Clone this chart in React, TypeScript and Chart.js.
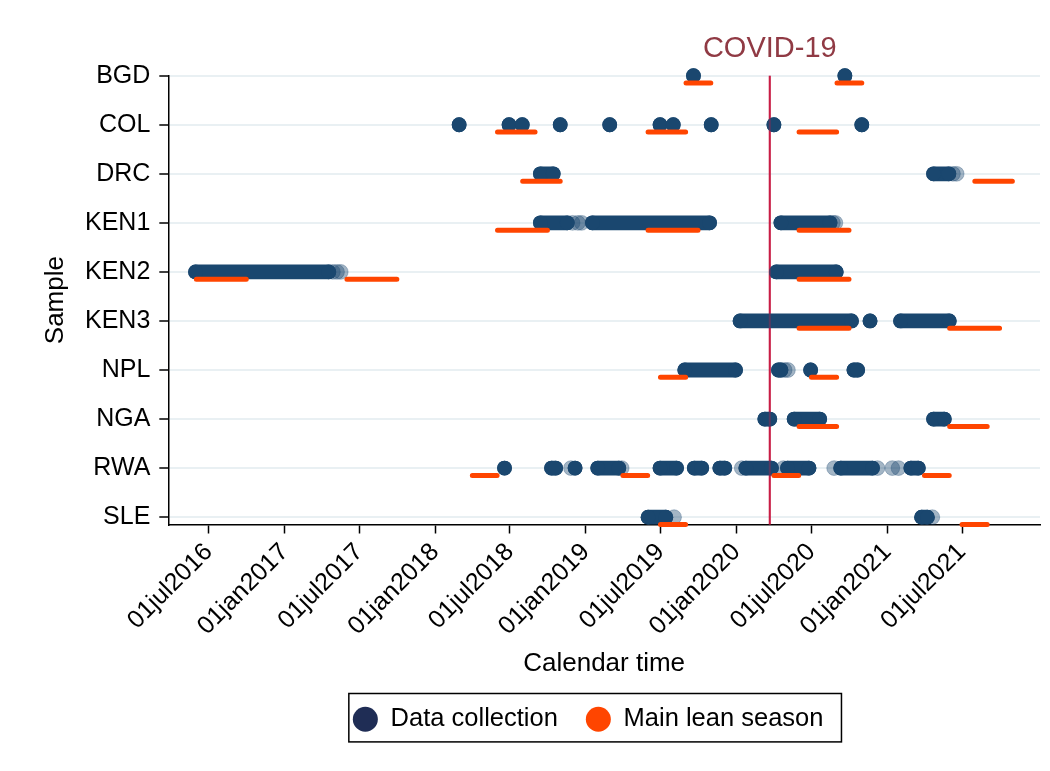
import React, { useEffect, useRef } from 'react';
import { Chart, registerables } from 'chart.js';

Chart.register(...registerables);

// ---------- categories & axis ----------
const samples = ['BGD', 'COL', 'DRC', 'KEN1', 'KEN2', 'KEN3', 'NPL', 'NGA', 'RWA', 'SLE'];

const xTickDates = [
  '2016-07-01', '2017-01-01', '2017-07-01', '2018-01-01', '2018-07-01', '2019-01-01',
  '2019-07-01', '2020-01-01', '2020-07-01', '2021-01-01', '2021-07-01',
];
const xTickLabels = [
  '01jul2016', '01jan2017', '01jul2017', '01jan2018', '01jul2018', '01jan2019',
  '01jul2019', '01jan2020', '01jul2020', '01jan2021', '01jul2021',
];
const xMinDate = '2016-03-25';
const xMaxDate = '2022-01-06';
const covidDate = '2020-03-22';
const covidLabel = 'COVID-19';

// ---------- data collection periods [start, end] ----------
const collectBGD = [['2019-09-19', '2019-09-19'], ['2020-09-20', '2020-09-20']];
const collectCOL = [
  ['2018-02-28', '2018-02-28'], ['2018-06-29', '2018-06-29'], ['2018-07-31', '2018-07-31'],
  ['2018-10-31', '2018-10-31'], ['2019-02-28', '2019-02-28'], ['2019-06-30', '2019-06-30'],
  ['2019-08-01', '2019-08-01'], ['2019-11-01', '2019-11-01'], ['2020-04-01', '2020-04-01'],
  ['2020-10-31', '2020-10-31'],
];
const collectDRC = [['2018-09-13', '2018-10-14'], ['2021-04-23', '2021-05-30']];
const collectKEN1 = [['2018-09-13', '2018-11-17'], ['2019-01-17', '2019-10-28'], ['2020-04-18', '2020-08-15']];
const collectKEN2 = [['2016-05-30', '2017-04-18'], ['2020-04-07', '2020-08-30']];
const collectKEN3 = [['2020-01-10', '2020-10-06'], ['2020-11-20', '2020-11-20'], ['2021-02-02', '2021-05-31']];
const collectNPL = [
  ['2019-08-29', '2019-12-30'], ['2020-04-12', '2020-04-18'], ['2020-06-29', '2020-06-29'],
  ['2020-10-12', '2020-10-21'],
];
const collectNGA = [['2020-03-10', '2020-03-22'], ['2020-05-20', '2020-07-21'], ['2021-04-23', '2021-05-19']];
const collectRWA = [
  ['2018-06-18', '2018-06-18'], ['2018-10-10', '2018-10-20'], ['2018-12-06', '2018-12-06'],
  ['2019-01-30', '2019-03-22'], ['2019-06-30', '2019-08-09'], ['2019-09-21', '2019-10-09'],
  ['2019-11-22', '2019-12-04'], ['2020-01-24', '2020-03-26'], ['2020-05-04', '2020-06-25'],
  ['2020-09-10', '2020-11-26'], ['2021-02-27', '2021-03-17'],
];
const collectSLE = [['2019-06-01', '2019-07-14'], ['2021-03-25', '2021-04-08']];

// sparse (few observations) collection days, drawn faded
const sparseBGD: string[] = [];
const sparseCOL: string[] = [];
const sparseDRC = ['2021-06-09', '2021-06-18'];
const sparseKEN1 = ['2018-11-30', '2018-12-13', '2018-12-22', '2020-08-22', '2020-08-28'];
const sparseKEN2 = ['2017-04-28', '2017-05-08', '2017-05-17'];
const sparseKEN3: string[] = [];
const sparseNPL = ['2020-04-27', '2020-05-05'];
const sparseNGA: string[] = [];
const sparseRWA = [
  '2018-11-26', '2019-03-29', '2020-01-14', '2020-04-24', '2020-08-25', '2020-12-08',
  '2021-01-13', '2021-01-28',
];
const sparseSLE = ['2019-08-03', '2021-04-20'];

// ---------- main lean season periods [start, end] ----------
const leanBGD = [['2019-09-01', '2019-10-31'], ['2020-09-01', '2020-10-31']];
const leanCOL = [['2018-06-01', '2018-08-31'], ['2019-06-01', '2019-08-31'], ['2020-06-01', '2020-08-31']];
const leanDRC = [['2018-08-01', '2018-10-31'], ['2021-08-01', '2021-10-31']];
const leanKEN1 = [['2018-06-01', '2018-09-30'], ['2019-06-01', '2019-09-30'], ['2020-06-01', '2020-09-30']];
const leanKEN2 = [['2016-06-01', '2016-09-30'], ['2017-06-01', '2017-09-30'], ['2020-06-01', '2020-09-30']];
const leanKEN3 = [['2020-06-01', '2020-09-30'], ['2021-06-01', '2021-09-30']];
const leanNPL = [['2019-07-01', '2019-08-31'], ['2020-07-01', '2020-08-31']];
const leanNGA = [['2020-06-01', '2020-08-31'], ['2021-06-01', '2021-08-31']];
const leanRWA = [
  ['2018-04-01', '2018-05-31'], ['2019-04-01', '2019-05-31'], ['2020-04-01', '2020-05-31'],
  ['2021-04-01', '2021-05-31'],
];
const leanSLE = [['2019-07-01', '2019-08-31'], ['2021-07-01', '2021-08-31']];

const collectionBySample = [
  collectBGD, collectCOL, collectDRC, collectKEN1, collectKEN2,
  collectKEN3, collectNPL, collectNGA, collectRWA, collectSLE,
];
const sparseBySample = [
  sparseBGD, sparseCOL, sparseDRC, sparseKEN1, sparseKEN2,
  sparseKEN3, sparseNPL, sparseNGA, sparseRWA, sparseSLE,
];
const leanBySample = [
  leanBGD, leanCOL, leanDRC, leanKEN1, leanKEN2,
  leanKEN3, leanNPL, leanNGA, leanRWA, leanSLE,
];

// ---------- styles ----------
const NAVY = '#1a476f';
const NAVY_FADED = 'rgba(26,71,111,0.4)';
const NAVY_LEGEND = '#1f2d55';
const ORANGE = '#ff4500';
const COVID_LINE = '#c81e46';
const COVID_TEXT = '#903a44';
const GRID = '#e9f0f3';
const FONT = "'Liberation Sans', Arial, Helvetica, sans-serif";
const LEAN_OFFSET = 0.15;

function toDay(s: string): number {
  const [y, m, d] = s.split('-').map(Number);
  return Date.UTC(y, m - 1, d) / 86400000;
}

function buildSegments(periodsBySample: string[][][], yOffset: number) {
  const pts: { x: number; y: number | null }[] = [];
  periodsBySample.forEach((periods, i) => {
    periods.forEach(([s, e]) => {
      pts.push({ x: toDay(s), y: i + yOffset });
      if (e !== s) pts.push({ x: toDay(e), y: i + yOffset });
      pts.push({ x: toDay(e), y: null });
    });
  });
  return pts;
}

function buildPoints(daysBySample: string[][]) {
  const pts: { x: number; y: number }[] = [];
  daysBySample.forEach((days, i) => days.forEach((d) => pts.push({ x: toDay(d), y: i })));
  return pts;
}

const covidPlugin = {
  id: 'covidLine',
  beforeDatasetsDraw(chart: any) {
    const { ctx, chartArea, scales } = chart;
    const x = scales.x.getPixelForValue(toDay(covidDate));
    ctx.save();
    ctx.strokeStyle = COVID_LINE;
    ctx.lineWidth = 2;
    ctx.beginPath();
    ctx.moveTo(x, chartArea.top);
    ctx.lineTo(x, chartArea.bottom);
    ctx.stroke();
    ctx.restore();
  },
  afterDatasetsDraw(chart: any) {
    const { ctx, chartArea, scales } = chart;
    const x = scales.x.getPixelForValue(toDay(covidDate));
    ctx.save();
    ctx.globalAlpha = 0.35;
    ctx.strokeStyle = COVID_LINE;
    ctx.lineWidth = 2;
    ctx.beginPath();
    ctx.moveTo(x, chartArea.top);
    ctx.lineTo(x, chartArea.bottom);
    ctx.stroke();
    ctx.globalAlpha = 1;
    ctx.fillStyle = COVID_TEXT;
    ctx.font = `29px ${FONT}`;
    ctx.textAlign = 'center';
    ctx.textBaseline = 'middle';
    ctx.fillText(covidLabel, x, chartArea.top - 27);
    ctx.restore();
  },
};

const legendPlugin = {
  id: 'legendFrame',
  afterLayout(chart: any) {
    const lg = chart.legend;
    if (!lg) return;
    const ca = chart.chartArea;
    const target = (ca.left + ca.right) / 2 - 16;
    const dx = target - (lg.left + lg.right) / 2;
    lg.left += dx;
    lg.right += dx;
  },
  afterDraw(chart: any) {
    const lg = chart.legend;
    if (!lg || !lg.legendHitBoxes || !lg.legendHitBoxes.length) return;
    const hb = lg.legendHitBoxes;
    const first = hb[0];
    const last = hb[hb.length - 1];
    const left = first.left - 4;
    const right = last.left + last.width + 18;
    const top = first.top - 13;
    const bottom = first.top + 35.4;
    const { ctx } = chart;
    ctx.save();
    ctx.strokeStyle = '#000';
    ctx.lineWidth = 1.5;
    ctx.strokeRect(left, top, right - left, bottom - top);
    ctx.restore();
  },
};

export default function App() {
  const ref = useRef<HTMLCanvasElement>(null);

  useEffect(() => {
    if (!ref.current) return;
    Chart.defaults.font.family = FONT;
    Chart.defaults.color = '#000';

    const legendColors = [NAVY_LEGEND, ORANGE];

    const chart = new Chart(ref.current, {
      type: 'line',
      data: {
        datasets: [
          {
            label: 'Data collection',
            data: buildSegments(collectionBySample, 0),
            borderColor: NAVY,
            backgroundColor: NAVY,
            borderWidth: 14.8,
            borderCapStyle: 'round',
            borderJoinStyle: 'round',
            pointRadius: 7.4,
            pointBackgroundColor: NAVY,
            pointBorderColor: NAVY,
            pointBorderWidth: 0,
            pointStyle: 'circle',
            spanGaps: false,
            tension: 0,
            clip: false,
            order: 1,
          } as any,
          {
            label: 'Main lean season',
            data: buildSegments(leanBySample, LEAN_OFFSET),
            borderColor: ORANGE,
            backgroundColor: ORANGE,
            borderWidth: 5,
            borderCapStyle: 'round',
            pointRadius: 0,
            pointBackgroundColor: ORANGE,
            pointStyle: 'circle',
            spanGaps: false,
            tension: 0,
            clip: false,
            order: 0,
          } as any,
          {
            label: 'sparse',
            data: buildPoints(sparseBySample),
            showLine: false,
            pointRadius: 7.4,
            pointBackgroundColor: NAVY_FADED,
            pointBorderColor: 'rgba(26,71,111,0.3)',
            pointBorderWidth: 1,
            clip: false,
            order: 2,
          } as any,
        ],
      },
      options: {
        responsive: false,
        devicePixelRatio: 1,
        animation: false,
        events: [],
        layout: { autoPadding: false, padding: { top: 67.7, right: 2, bottom: 21, left: 0 } },
        scales: {
          x: {
            type: 'linear',
            min: toDay(xMinDate),
            max: toDay(xMaxDate),
            afterBuildTicks: (s: any) => {
              s.ticks = xTickDates.map((d) => ({ value: toDay(d) }));
            },
            afterFit: (s: any) => {
              s.height = 154;
              s.paddingLeft = 0;
              s.paddingRight = 0;
            },
            ticks: {
              callback: (_v: any, i: number) => xTickLabels[i],
              autoSkip: false,
              maxRotation: 45,
              minRotation: 45,
              font: { size: 25 },
              padding: 4,
              color: '#000',
            },
            grid: { drawOnChartArea: false, drawTicks: true, tickLength: 9, tickColor: '#000', tickWidth: 1.5 },
            border: { color: '#000', width: 1.5 },
            title: {
              display: true,
              text: 'Calendar time',
              font: { size: 26 },
              color: '#000',
              padding: { top: 0, bottom: -1 },
            },
          },
          y: {
            type: 'linear',
            reverse: true,
            min: 0,
            max: samples.length - 1 + LEAN_OFFSET,
            afterBuildTicks: (s: any) => {
              s.ticks = samples.map((_, i) => ({ value: i }));
            },
            afterFit: (s: any) => {
              s.width = 160.3;
              s.paddingTop = 0;
              s.paddingBottom = 0;
            },
            ticks: {
              callback: (_v: any, i: number) => samples[i],
              autoSkip: false,
              font: { size: 25 },
              padding: 9,
              color: '#000',
            },
            grid: { color: GRID, lineWidth: 2, drawTicks: true, tickLength: 9, tickColor: '#000', tickWidth: 1.5 },
            border: { color: '#000', width: 1.5 },
            title: {
              display: true,
              text: 'Sample',
              font: { size: 26 },
              color: '#000',
              padding: { top: 32.4, bottom: 0 },
            },
          },
        },
        plugins: {
          tooltip: { enabled: false },
          legend: {
            display: true,
            position: 'bottom',
            labels: {
              usePointStyle: true,
              pointStyle: 'circle',
              pointStyleWidth: 25,
              boxHeight: 17.7,
              padding: 28,
              font: { size: 25.5 },
              color: '#000',
              generateLabels: (c: any) => {
                const items = (Chart.defaults.plugins.legend.labels as any).generateLabels(c);
                return items
                  .filter((it: any) => it.datasetIndex < 2)
                  .sort((a: any, b: any) => a.datasetIndex - b.datasetIndex)
                  .map((it: any) => ({
                    ...it,
                    fillStyle: legendColors[it.datasetIndex],
                    strokeStyle: legendColors[it.datasetIndex],
                    lineWidth: 0,
                    pointStyle: 'circle',
                  }));
              },
            },
          },
        },
      } as any,
      plugins: [covidPlugin, legendPlugin],
    });

    return () => chart.destroy();
  }, []);

  return (
    <div style={{ width: 1034, height: 755 }}>
      <canvas ref={ref} width={1034} height={755} style={{ display: 'block' }} />
    </div>
  );
}
